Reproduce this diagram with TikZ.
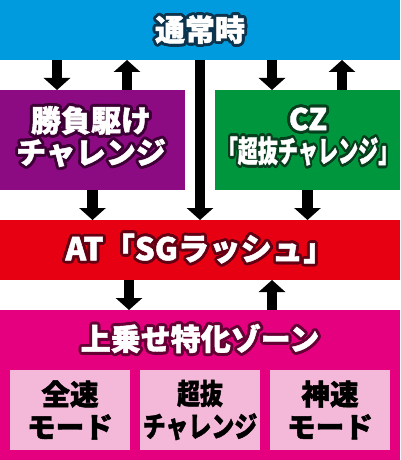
\documentclass[tikz,border=0pt]{standalone}
\usepackage{fontspec}
\newfontfamily\jp{Noto Sans CJK JP}[BoldFeatures={FakeBold=1.5}]
\usepackage{contour}
\contourlength{2.2pt}
\usepackage{xcolor}
\usetikzlibrary{positioning,calc,arrows.meta}

\definecolor{normalblue}{RGB}{0,155,222}
\definecolor{normaldark}{RGB}{12,52,78}
\definecolor{shoubupurple}{RGB}{140,10,130}
\definecolor{shoubudark}{RGB}{60,0,52}
\definecolor{czgreen}{RGB}{0,150,62}
\definecolor{czdark}{RGB}{8,62,30}
\definecolor{atred}{RGB}{230,0,18}
\definecolor{atdark}{RGB}{100,0,20}
\definecolor{zonepink}{RGB}{228,0,127}
\definecolor{zonedark}{RGB}{100,0,52}
\definecolor{modepink}{RGB}{244,184,216}

\tikzset{
  stage/.style={rectangle, inner sep=0pt, outer sep=0pt},
  title/.style={text=white, align=center, font=\jp\bfseries\fontsize{22.5pt}{24pt}\selectfont},
  mode/.style={stage, fill=modepink, minimum width=90pt, minimum height=60pt, align=center,
    font=\jp\bfseries\fontsize{21.5pt}{24.5pt}\selectfont},
  arr/.style={line width=8pt, -{Triangle[width=19.5pt,length=9pt]}}
}

\begin{document}
\begin{tikzpicture}[x=0.75pt,y=-0.75pt]
\useasboundingbox (0,0) rectangle (400,460);

% top: normal state
\node[stage, fill=normalblue, minimum width=300pt, minimum height=45pt] (normal) at (200,30) {};
\node[title] (normaltext) at (200,31) {\contour{normaldark}{通常時}};

% middle: two side boxes
\node[stage, fill=shoubupurple, minimum width=138.75pt, minimum height=75pt] (shoubu) at (92.5,140) {};
\node[title] (shoubutext) at (91,138) {\contour{shoubudark}{勝負駆け}\\\contour{shoubudark}{チャレンジ}};
\node[stage, fill=czgreen, minimum width=138.75pt, minimum height=75pt] (cz) at (307.5,140) {};
\node[title] (cztext) at (308,138) {\contour{czdark}{CZ}\\\scalebox{0.67}[1]{\contour{czdark}{「超抜チャレンジ」}}};

% AT bar
\node[stage, fill=atred, minimum width=300pt, minimum height=45pt] (at) at (200,250) {};
\node[title, font=\jp\bfseries\fontsize{23.5pt}{24pt}\selectfont] (attext) at (200,250) {\contour{atdark}{AT「SGラッシュ」}};

% bottom: zone with three modes
\node[stage, fill=zonepink, minimum width=300pt, minimum height=112.5pt] (zone) at (200,385) {};
\node[title] (zonetext) at (200,340) {\contour{zonedark}{上乗せ特化ゾーン}};
\node[mode] (zensoku) at (70,410) {全速\\モード};
\node[mode] (chobatsu) at (200,410) {\scalebox{0.8}[1]{超抜}\\\scalebox{0.8}[1]{チャレンジ}};
\node[mode] (shinsoku) at (330,410) {神速\\モード};

% arrows
\path (shoubu.north west) ++(57,0) coordinate (s1) ++(70,0) coordinate (s2);
\path (cz.north west) ++(57,0) coordinate (c1) ++(70,0) coordinate (c2);
\draw[arr] (normal.south -| s1) -- (s1);
\draw[arr] (s2) -- (normal.south -| s2);
\draw[arr] (normal.south -| c1) -- (c1);
\draw[arr] (c2) -- (normal.south -| c2);
\draw[arr] (normal.south) -- (at.north);
\draw[arr] (shoubu.south) -- (shoubu.south |- at.north);
\draw[arr] (cz.south) -- (cz.south |- at.north);
\path (at.south) ++(-71,0) coordinate (a1) ++(143,0) coordinate (a2);
\draw[arr] (a1) -- (a1 |- zone.north);
\draw[arr] (a2 |- zone.north) -- (a2);
\end{tikzpicture}
\end{document}
